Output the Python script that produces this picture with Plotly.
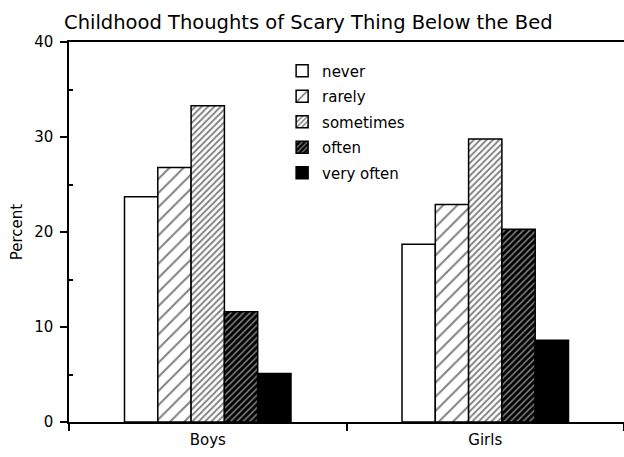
import plotly.graph_objects as go

groups = ["Boys", "Girls"]
levels = ["never", "rarely", "sometimes", "often", "very often"]
boys = [23.7, 26.8, 33.3, 11.6, 5.1]
girls = [18.7, 22.9, 29.8, 20.3, 8.6]

# fill styling per response level (hatch density gets darker with frequency)
patterns = [
    dict(shape="", bgcolor="white"),
    dict(shape="/", size=10, solidity=0.2, fgcolor="black", bgcolor="white"),
    dict(shape="/", size=4.5, solidity=0.4, fgcolor="black", bgcolor="white"),
    dict(shape="/", size=4.5, solidity=0.35, fgcolor="white", bgcolor="black"),
    dict(shape="", bgcolor="black"),
]
fills = ["white", "white", "white", "black", "black"]

fig = go.Figure()
for i, lvl in enumerate(levels):
    fig.add_trace(go.Bar(
        x=groups,
        y=[boys[i], girls[i]],
        name=lvl,
        legendgroup=lvl,
        marker=dict(color=fills[i], pattern=patterns[i],
                    line=dict(color="black", width=1.5)),
    ))

font = "DejaVu Sans"
fig.update_layout(
    width=624, height=457,
    margin=dict(l=69, r=0, t=42, b=35),
    paper_bgcolor="white", plot_bgcolor="white",
    font=dict(family=font, size=15, color="black"),
    barmode="group", bargap=0.4, bargroupgap=0,
    title=dict(text="Childhood Thoughts of Scary Thing Below the Bed",
               font=dict(size=19.5, family=font, color="black"),
               xref="container", x=0.1026, xanchor="left",
               yref="container", y=0.952, yanchor="middle"),
    legend=dict(x=0.384, xanchor="left", y=0.967, yanchor="top",
                font=dict(size=15), tracegroupgap=3,
                bgcolor="rgba(0,0,0,0)"),
    showlegend=True,
)
fig.update_xaxes(
    type="category", range=[-0.5, 1.5], tickson="boundaries",
    ticks="outside", ticklen=7, tickcolor="black", tickwidth=1.5,
    ticklabelstandoff=3,
    showline=True, linecolor="black", linewidth=1.5, mirror=True,
    showgrid=False, zeroline=False,
)
fig.update_yaxes(
    range=[0, 40], tickvals=[0, 10, 20, 30, 40],
    ticks="outside", ticklen=7, tickcolor="black", tickwidth=1.5,
    ticklabelstandoff=4,
    minor=dict(tickvals=[5, 15, 25, 35], ticks="inside", ticklen=4,
               tickcolor="black", tickwidth=1.5, showgrid=False),
    showline=True, linecolor="black", linewidth=1.5,
    showgrid=False, zeroline=False,
    title=dict(text="Percent", standoff=8, font=dict(size=15)),
)

fig.write_html("out.html")
